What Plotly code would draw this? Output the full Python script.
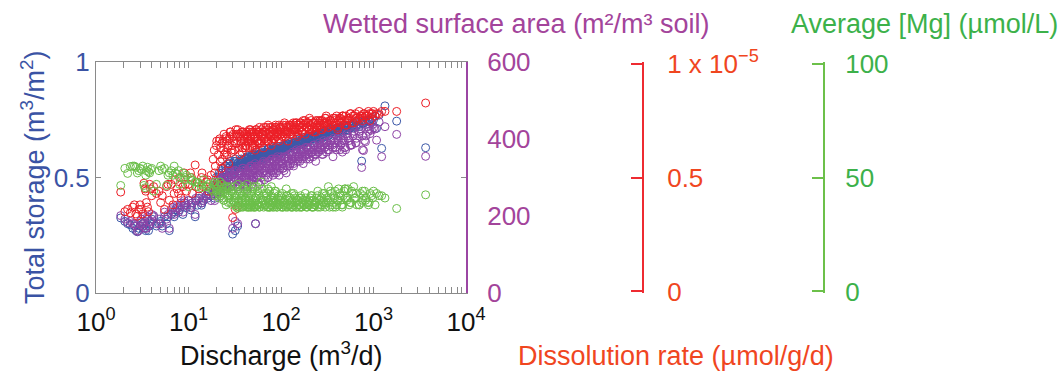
import plotly.graph_objects as go

# ---------------- data ----------------
discharge = [
    1.85, 2.2, 2.35, 2.5, 2.7, 2.8, 3.0, 3.1, 3.3, 3.4, 3.5, 3.6, 3.7, 3.9, 4.2, 4.5, 5.0, 5.2, 5.5, 5.8,
    6.2, 6.5, 6.8, 7.0, 7.5, 8.0, 8.3, 8.7, 9.0, 9.5, 10, 10.5, 11, 11.8, 12.5, 13, 13.8, 14.5, 15.5, 16.5, 17.5,
    18.5, 19, 19.5, 20, 21, 21.5, 22, 23, 24, 25, 26, 27, 28, 29, 30, 31, 32, 33, 34,
    35, 35.5, 36, 37, 38, 39, 40, 41, 42, 43, 44, 45, 46, 47, 48, 49, 50, 51, 52, 53, 54, 55, 56, 57, 58,
    60, 61, 62, 64, 65, 66, 68, 70, 71, 72, 74, 76, 78, 80, 82, 84, 86, 88, 90, 92, 95, 98, 100,
    103, 106, 110, 113, 116, 120, 124, 128, 132, 136, 140, 145, 150, 155, 160, 165, 170, 176, 182, 188, 195, 200,
    208, 215, 222, 230, 238, 246, 255, 265, 275, 285, 295, 305, 320, 335, 350, 365, 380, 400, 420, 440, 460, 480, 500,
    530, 560, 600, 640, 700, 745, 780, 820, 880, 950, 1000, 1080, 1225, 1330, 1780, 3660,
    2.05, 2.6, 2.9, 3.2, 3.45, 3.8, 4.0, 4.8, 6.0, 7.2, 7.8, 9.2, 10.8, 12, 14, 16,
    20.5, 21.8, 22.5, 23.5, 24.5, 25.5, 26.5, 27.5, 28.5, 29.5,
    30.5, 31.5, 32.5, 33.5, 34.5, 36.5, 37.5, 38.5, 39.5, 40.5,
    41.5, 42.5, 43.5, 44.5, 45.5, 46.5, 47.5, 48.5, 49.5, 50.5,
    53.5, 55.5, 57.5, 59, 63, 67, 69, 73, 75, 77,
    79, 81, 83, 85, 87, 89, 91, 94, 97, 101,
    105, 108, 112, 115, 118, 122, 126, 130, 134, 138,
    143, 148, 153, 158, 163, 168, 173, 179, 185, 192,
    198, 204, 212, 219, 226, 234, 242, 250, 260, 270,
    280, 290, 300, 312, 327, 342, 358, 372, 390, 410,
    430, 450, 470, 490, 515, 545, 580, 620, 660, 720,
    760, 800, 860, 920, 980, 1040, 1150,
    19.2, 20.2, 21.2, 22.2, 23.2, 24.2, 25.2, 26.2, 27.2, 28.2,
    29.2, 31.2, 32.2, 34.2, 35.8, 37.2, 38.8, 40.8, 42.8, 44.8,
    46.8, 48.8, 51.5, 52.5, 54.5, 56.5, 58.5, 60.5, 62.5, 64.5,
    66.5, 69.5, 72.5, 75.5, 78.5, 81.5, 84.5, 87.5, 91.5, 95.5,
    99.5, 104, 109, 114, 119, 125, 131, 137, 144, 151,
    158, 166, 174, 183, 193, 203, 214, 225, 237, 250,
    263, 277, 292, 308, 325, 345, 365, 385, 410, 435,
    465, 495, 525, 570, 610, 650, 700, 760, 830, 900,
]

total_storage = [
    .325, .300, .295, .280, .270, .265, .290, .305, .280, .310, .290, .320, .270, .300, .330, .290, .310, .290, .330, .300,
    .270, .340, .350, .330, .370, .360, .380, .340, .390, .370, .400, .360, .390, .330, .380, .410, .380, .400, .420, .430, .420,
    .450, .430, .470, .500, .480, .520, .460, .530, .500, .550, .490, .540, .560, .520, .255, .570, .270, .550, .290,
    .555, .530, .570, .545, .575, .550, .580, .555, .585, .560, .570, .590, .560, .580, .575, .595, .570, .580, .600, .300,
    .580, .595, .575, .600, .585, .605, .590, .580, .610, .595, .585, .610, .600, .590, .620, .600, .615, .595, .620, .600,
    .625, .605, .630, .610, .625, .600, .635, .615,
    .635, .615, .640, .620, .645, .625, .650, .630, .655, .635, .650, .665, .640, .655, .670, .645, .665, .650, .675, .655, .670, .680,
    .660, .680, .670, .685, .665, .690, .675, .695, .670, .700, .680, .695, .705, .685, .710, .690, .705, .715, .695, .720, .700, .725, .705,
    .720, .715, .725, .720, .730, .571, .735, .740, .745, .755, .750, .713, .626, .810, .744, .629,
    .31, .29, .28, .30, .27, .29, .32, .30, .33, .36, .35, .38, .37, .40, .39, .41,
    .44, .51, .47, .54, .49, .53, .56, .51, .55, .53,
    .56, .54, .57, .55, .565, .56, .57, .555, .575, .565,
    .58, .57, .565, .585, .575, .57, .59, .58, .575, .59,
    .585, .595, .59, .60, .595, .605, .60, .61, .605, .60,
    .615, .61, .605, .62, .61, .615, .62, .61, .625, .62,
    .63, .625, .63, .635, .625, .64, .635, .64, .645, .64,
    .65, .645, .65, .655, .65, .66, .655, .665, .66, .665,
    .67, .665, .675, .67, .68, .675, .68, .685, .68, .69,
    .685, .69, .695, .69, .70, .695, .70, .705, .70, .71,
    .705, .715, .71, .72, .715, .725, .72, .73, .725, .74,
    .735, .745, .75, .74, .76, .765, .77,
    .41, .46, .50, .44, .52, .48, .55, .50, .53, .57,
    .51, .53, .58, .545, .53, .58, .555, .54, .59, .565,
    .55, .60, .565, .58, .61, .57, .595, .58, .62, .575,
    .60, .58, .625, .595, .61, .63, .59, .615, .635, .60,
    .625, .605, .64, .62, .645, .61, .635, .65, .625, .64,
    .66, .635, .655, .67, .64, .665, .68, .65, .67, .685,
    .665, .69, .675, .70, .68, .695, .71, .685, .70, .715,
    .695, .72, .705, .73, .715, .74, .72, .745, .73, .75,
]

wetted_area = [
    201, 183, 186, 180, 174, 160, 186, 192, 180, 201, 168, 198, 174, 186, 201, 180, 180, 168, 210, 192,
    168, 216, 222, 204, 228, 216, 234, 210, 240, 228, 240, 222, 234, 204, 240, 252, 234, 246, 252, 264, 240,
    264, 252, 270, 282, 276, 294, 264, 300, 276, 306, 282, 300, 312, 288, 168, 318, 186, 294, 180,
    294, 312, 282, 306, 300, 318, 288, 312, 300, 276, 318, 294, 312, 324, 282, 306, 318, 294, 324, 180, 300, 330, 306, 288, 318,
    330, 300, 324, 312, 336, 294, 324, 336, 312, 300, 330, 342, 318, 336, 306, 342, 324, 348, 330, 318, 342, 330, 354,
    336, 324, 348, 330, 354, 342, 330, 360, 348, 336, 360, 348, 366, 354, 342, 366, 354, 372, 360, 348, 372, 360,
    378, 366, 354, 372, 360, 378, 366, 384, 372, 360, 378, 390, 372, 384, 396, 378, 390, 372, 396, 384, 366, 396, 372,
    402, 384, 408, 390, 414, 326, 370, 393, 420, 423, 428, 397, 354, 432, 412, 355,
    192, 180, 162, 174, 168, 186, 204, 192, 204, 210, 222, 234, 228, 246, 240, 258,
    258, 270, 300, 282, 312, 270, 300, 318, 276, 306,
    288, 312, 282, 306, 270, 312, 294, 324, 300, 282,
    318, 300, 312, 288, 324, 306, 294, 330, 312, 300,
    324, 306, 330, 312, 336, 318, 306, 342, 324, 312,
    348, 330, 318, 342, 330, 312, 348, 336, 324, 348,
    336, 318, 354, 342, 330, 360, 336, 348, 366, 342,
    354, 372, 348, 360, 372, 348, 366, 354, 378, 360,
    372, 354, 378, 366, 384, 360, 378, 366, 390, 372,
    384, 396, 378, 390, 372, 396, 384, 402, 378, 396,
    408, 390, 402, 378, 414, 396, 384, 420, 402, 426,
    408, 396, 432, 414, 438, 426, 444,
    240, 264, 282, 252, 294, 270, 306, 276, 300, 318,
    282, 300, 318, 276, 306, 288, 324, 300, 270, 312,
    330, 294, 318, 336, 300, 324, 282, 330, 312, 342,
    318, 336, 300, 342, 324, 348, 312, 330, 354, 306,
    342, 324, 354, 312, 348, 336, 360, 330, 366, 342,
    354, 372, 336, 360, 378, 348, 366, 384, 342, 372,
    378, 360, 390, 366, 384, 396, 354, 378, 402, 372,
    396, 378, 408, 384, 414, 390, 420, 372, 408, 426,
]

# dissolution rate, in units of 1e-5 umol/g/d
dissolution_rate_e5 = [
    .436, .360, .345, .370, .340, .330, .380, .360, .475, .450, .390, .370, .350, .450, .460, .430, .390, .420, .360, .460,
    .400, .470, .380, .430, .450, .500, .410, .460, .520, .440, .470, .520, .430, .555, .480, .450, .500, .460, .480, .440, .510,
    .580, .620, .550, .640, .600, .660, .570, .650, .620, .670, .600, .640, .680, .610, .324, .660, .360, .690, .374,
    .680, .630, .690, .650, .610, .700, .660, .690, .640, .680, .660, .700, .630, .670, .690, .650, .700, .670, .640, .680, .710, .660, .690, .650, .700,
    .680, .710, .660, .690, .720, .670, .700, .680, .710, .660, .690, .720, .680, .700, .670, .710, .690, .720, .680, .700, .730, .690, .710,
    .680, .720, .700, .730, .690, .720, .700, .730, .710, .740, .720, .700, .730, .710, .740, .720, .700, .730, .750, .720, .740, .710,
    .730, .710, .740, .720, .750, .720, .740, .730, .750, .720, .740, .760, .730, .750, .740, .760, .750, .770, .750, .760, .770, .750, .770,
    .760, .780, .770, .780, .760, .770, .780, .770, .790, .780, .790, .780, .790, .790, .790, .827,
    .35, .38, .36, .34, .44, .47, .42, .44, .47, .49, .43, .47, .50, .46, .52, .49,
    .48, .67, .54, .66, .60, .68, .63, .67, .70, .64,
    .69, .62, .71, .65, .69, .66, .70, .63, .68, .67,
    .64, .70, .67, .65, .71, .68, .66, .70, .63, .69,
    .71, .66, .70, .65, .70, .67, .72, .66, .70, .68,
    .66, .72, .69, .67, .72, .68, .71, .67, .72, .69,
    .73, .70, .68, .72, .70, .73, .69, .72, .70, .73,
    .71, .74, .69, .72, .74, .70, .73, .71, .74, .72,
    .74, .71, .75, .72, .70, .74, .72, .75, .73, .71,
    .75, .73, .76, .74, .72, .75, .73, .76, .74, .72,
    .76, .74, .77, .75, .73, .76, .74, .77, .75, .77,
    .76, .78, .77, .75, .78, .77, .78,
    .52, .66, .47, .63, .58, .69, .61, .66, .56, .70,
    .62, .68, .65, .71, .60, .67, .70, .63, .69, .66,
    .71, .64, .68, .62, .70, .66, .72, .65, .69, .63,
    .70, .66, .73, .68, .64, .71, .67, .73, .69, .66,
    .72, .68, .74, .70, .66, .73, .69, .71, .74, .68,
    .73, .70, .75, .69, .72, .76, .71, .74, .70, .73,
    .75, .71, .74, .77, .72, .75, .73, .76, .71, .74,
    .77, .73, .75, .78, .74, .76, .79, .75, .77, .78,
]

mg_average = [
    46.5, 51.8, 54.8, 55.0, 54.5, 52.0, 54.0, 53.5, 46.5, 45.5, 53.0, 54.5, 52.5, 53.5, 44.0, 47.0, 55.0, 53.5, 54.0, 46.5,
    52.0, 53.0, 51.0, 55.0, 51.5, 47.0, 50.0, 52.0, 49.0, 51.0, 46.0, 50.0, 48.5, 48.0, 46.0, 47.5, 45.5, 49.0, 46.0, 47.0, 45.0,
    44, 47, 42, 45, 43, 41, 48, 44, 40, 43, 46, 39, 42, 44, 38, 40, 41, 37, 36.5,
    40, 37, 44, 39, 42, 37, 45, 38, 40, 47, 37, 41, 38, 43, 37, 39, 46, 38, 40, 37, 42, 38, 44, 39, 37,
    41, 48, 38, 40, 37, 43, 38, 41, 37, 45, 39, 37, 42, 38, 40, 37, 44, 39, 37, 41, 38, 40, 37,
    43, 38, 40, 37, 42, 38, 41, 37, 39, 38, 42, 37, 40, 38, 41, 37, 39, 38, 40, 37, 39, 38,
    41, 37, 40, 38, 39, 42, 38, 37, 41, 39, 38, 42, 40, 37, 43, 39, 41, 38, 45, 40, 37, 44, 41,
    45, 39, 43, 41, 38, 39, 42, 40, 38, 42, 44, 43, 42, 41, 36.4, 42.4,
    54, 55, 53, 55, 51, 52, 54, 53, 51, 52, 53, 50, 49, 48, 47, 46,
    47, 43, 45, 41, 46, 38, 42, 45, 39, 43,
    40, 46, 38, 42, 39, 43, 37, 40, 46, 39,
    41, 37, 44, 38, 40, 37, 42, 38, 45, 37,
    41, 38, 43, 37, 40, 38, 42, 37, 44, 38,
    41, 37, 39, 43, 38, 40, 37, 42, 38, 41,
    37, 39, 38, 42, 37, 40, 38, 43, 37, 39,
    41, 37, 40, 38, 42, 37, 40, 38, 41, 37,
    39, 38, 42, 37, 40, 38, 41, 37, 40, 38,
    43, 39, 37, 41, 39, 44, 38, 42, 37, 40,
    43, 38, 42, 45, 40, 38, 44, 41, 38, 43,
    40, 44, 39, 43, 41, 38, 42,
    48, 44, 46, 42, 47, 40, 45, 43, 41, 46,
    44, 39, 42, 47, 38, 41, 45, 40, 43, 37,
    39, 44, 37, 41, 46, 38, 42, 39, 45, 40,
    38, 43, 40, 37, 46, 39, 41, 44, 38, 40,
    42, 37, 39, 45, 38, 41, 37, 43, 39, 40,
    37, 41, 39, 43, 38, 40, 42, 37, 39, 44,
    40, 38, 43, 39, 46, 41, 37, 44, 40, 42,
    38, 45, 41, 39, 46, 43, 38, 44, 41, 39,
]

assert len(discharge) == len(total_storage) == len(wetted_area) == len(dissolution_rate_e5) == len(mg_average)

# ---------------- style ----------------
W, H = 1059, 373
FONT = "Liberation Sans, Arial, Helvetica, sans-serif"
GRAY = "#8a8a8a"
BLUE_M, BLUE_T = "#3c58a8", "#3a53a4"
PURPLE_M, PURPLE_T, PURPLE_L = "#8d42a5", "#a3449b", "#9b46a3"
RED_M, RED_L, RED_T = "#ec1f27", "#ee2b31", "#f0461f"
GREEN_M, GREEN_L, GREEN_T = "#6bbf49", "#6cc04a", "#3cb14a"
TICK_SIZE = 26
TITLE_SIZE = 27

x0, x1 = 96, 466          # plot box, pixels
ytop, ybot = 62, 293

def mk(color):
    return dict(symbol="circle-open", size=8, color=color, line=dict(width=1, color=color))

fig = go.Figure()
fig.add_trace(go.Scatter(x=discharge, y=total_storage, mode="markers", marker=mk(BLUE_M),
                         xaxis="x", yaxis="y", name="Total storage"))
fig.add_trace(go.Scatter(x=discharge, y=wetted_area, mode="markers", marker=mk(PURPLE_M),
                         xaxis="x", yaxis="y2", name="Wetted surface area"))
fig.add_trace(go.Scatter(x=discharge, y=mg_average, mode="markers", marker=mk(GREEN_M),
                         xaxis="x", yaxis="y4", name="Average [Mg]"))
fig.add_trace(go.Scatter(x=discharge, y=dissolution_rate_e5, mode="markers", marker=mk(RED_M),
                         xaxis="x", yaxis="y3", name="Dissolution rate"))

minor_vals = [m * 10 ** e for e in range(4) for m in range(2, 10)]
ydom = [(H - ybot) / H, (H - ytop) / H]

fig.update_layout(
    width=W, height=H, autosize=False,
    margin=dict(l=0, r=0, t=0, b=0, pad=0, autoexpand=False),
    paper_bgcolor="white", plot_bgcolor="white",
    showlegend=False,
    font=dict(family=FONT, size=TICK_SIZE),
    xaxis=dict(
        type="log", range=[0, 4], domain=[x0 / W, x1 / W], anchor="y",
        tickmode="array", tickvals=[1, 10, 100, 1000, 10000],
        ticktext=[f"10<sup>{i}</sup>" for i in range(5)],
        ticks="inside", ticklen=6, tickcolor=GRAY, tickwidth=1,
        showline=True, linecolor=GRAY, linewidth=1, mirror="allticks",
        showgrid=False, zeroline=False, ticklabelstandoff=6,
        tickfont=dict(size=TICK_SIZE, color="#111111", family=FONT),
        minor=dict(ticks="inside", ticklen=3, tickcolor=GRAY, tickmode="array",
                   tickvals=minor_vals, showgrid=False),
    ),
    yaxis=dict(
        domain=ydom, range=[0, 1], anchor="x",
        tickmode="array", tickvals=[0, 0.5, 1], ticktext=["0", "0.5", "1"],
        ticks="inside", ticklen=5, tickcolor=GRAY,
        showline=True, linecolor=GRAY, linewidth=1, mirror="allticks",
        showgrid=False, zeroline=False,
        tickfont=dict(size=TICK_SIZE, color=BLUE_T, family=FONT),
    ),
    yaxis2=dict(
        overlaying="y", anchor="x", side="right", range=[0, 600],
        tickmode="array", tickvals=[0, 200, 400, 600],
        ticks="", showline=True, linecolor=PURPLE_L, linewidth=2,
        showgrid=False, zeroline=False, ticklabelstandoff=14,
        tickfont=dict(size=TICK_SIZE, color=PURPLE_T, family=FONT),
    ),
    yaxis3=dict(
        overlaying="y", anchor="free", position=643 / W, side="right", range=[-0.007, 1.007],
        tickmode="array", tickvals=[0, 0.5, 1],
        ticktext=["0", "0.5", "1 x 10<sup>\u22125</sup>"],
        ticks="inside", ticklen=11, tickwidth=2, tickcolor=RED_L,
        showline=True, linecolor=RED_L, linewidth=2,
        showgrid=False, zeroline=False, ticklabelstandoff=18,
        tickfont=dict(size=TICK_SIZE, color=RED_T, family=FONT),
    ),
    yaxis4=dict(
        overlaying="y", anchor="free", position=824 / W, side="right", range=[-0.7, 100.7],
        tickmode="array", tickvals=[0, 50, 100],
        ticks="inside", ticklen=11, tickwidth=2, tickcolor=GREEN_L,
        showline=True, linecolor=GREEN_L, linewidth=2,
        showgrid=False, zeroline=False, ticklabelstandoff=15,
        tickfont=dict(size=TICK_SIZE, color=GREEN_T, family=FONT),
    ),
)

def ann(text, xpx, ypx, color, angle=0):
    fig.add_annotation(text=text, x=xpx / W, y=1 - ypx / H, xref="paper", yref="paper",
                       xanchor="center", yanchor="middle", showarrow=False, textangle=angle,
                       font=dict(family=FONT, size=TITLE_SIZE, color=color))

ann("Discharge (m<sup>3</sup>/d)", 281, 354, "#111111")
ann("Total storage (m<sup>3</sup>/m<sup>2</sup>)", 33, 177, BLUE_T, angle=-90)
ann("Wetted surface area (m\u00b2/m\u00b3 soil)", 516, 24, PURPLE_T)
ann("Average [Mg] (\u00b5mol/L)", 924, 24, GREEN_T)
ann("Dissolution rate (\u00b5mol/g/d)", 676, 356, RED_T)

fig.write_html("out.html")
